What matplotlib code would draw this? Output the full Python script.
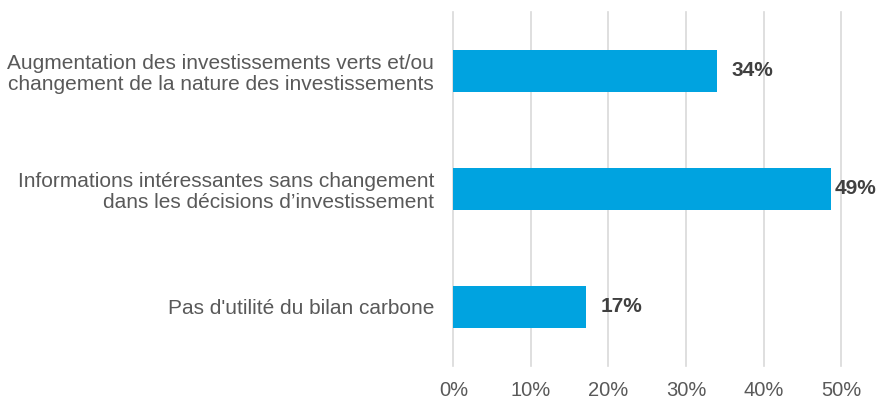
import matplotlib.pyplot as plt
from matplotlib.ticker import PercentFormatter

plt.rcParams['font.family'] = ['Liberation Sans', 'DejaVu Sans']

categories = [
    "Augmentation des investissements verts et/ou\nchangement de la nature des investissements",
    "Informations intéressantes sans changement\ndans les décisions d\u2019investissement",
    "Pas d'utilité du bilan carbone",
]
values = [0.34, 0.487, 0.171]
value_labels = ["34%", "49%", "17%"]

fig = plt.figure(figsize=(8.77, 4.01), dpi=100)
ax = fig.add_axes([0.517, 0.0873, 0.442, 0.883])

ypos = list(range(len(categories)))
bars = ax.barh(ypos, values, height=0.355, color="#00A3E0", zorder=3)

for y, v, lab in zip(ypos, values, value_labels):
    # label squeezed near the bar end when it would run off the chart
    off = 2.5 if v > 0.45 else 10.5
    ax.annotate(lab, (v, y), xytext=(off, 0), textcoords="offset points",
                va="center", ha="left", fontsize=15, fontweight="bold",
                color="#404040", zorder=4)

ax.set_xlim(0, 0.5)
ax.set_ylim(2.5, -0.5)
ax.set_xticks([0, 0.1, 0.2, 0.3, 0.4, 0.5])
ax.xaxis.set_major_formatter(PercentFormatter(1.0, decimals=0))
ax.set_yticks(ypos)
ax.set_yticklabels(categories, fontsize=15, color="#595959", ha="right",
                   linespacing=1.12)
ax.tick_params(axis="y", length=0, pad=14)
ax.tick_params(axis="x", length=0, pad=10.5, labelsize=14.5, labelcolor="#595959")
ax.grid(axis="x", color="#d9d9d9", linewidth=1.2, zorder=0)
ax.grid(axis="y", visible=False)
for s in ax.spines.values():
    s.set_visible(False)
for gl in ax.get_xgridlines():
    gl.set_clip_on(False)

fig.savefig("out.png", dpi=100)
